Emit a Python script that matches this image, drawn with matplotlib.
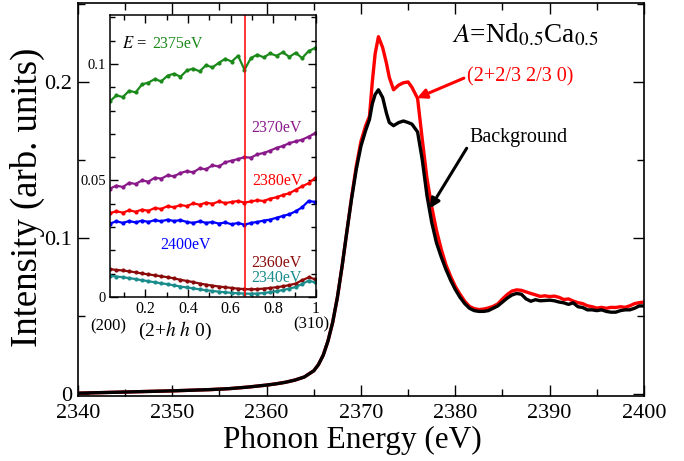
import matplotlib
matplotlib.use("Agg")
import matplotlib.pyplot as plt
from matplotlib.ticker import MultipleLocator

plt.rcParams["font.family"] = ["Liberation Serif", "DejaVu Serif"]
plt.rcParams["mathtext.fontset"] = "stix"

# main spectra: photon energy (eV) vs intensity
energy = [2340, 2342, 2344, 2346, 2348, 2350, 2352, 2354, 2356, 2358, 2360,
          2361, 2362, 2363, 2364, 2365, 2365.5, 2366, 2366.5, 2367, 2367.5,
          2368, 2368.5, 2369, 2369.5, 2370, 2370.5, 2370.9, 2371.2, 2371.5,
          2371.85, 2372.3, 2372.7, 2373.0, 2373.45, 2374.0, 2374.5, 2375.0,
          2375.4, 2376.0, 2376.5, 2377.0, 2377.5, 2378.0, 2378.5, 2379.0,
          2379.5, 2380.0, 2380.5, 2381.0, 2381.5, 2382.0, 2382.5, 2383.0,
          2383.5, 2384.0, 2384.5, 2385.0, 2385.5, 2386.0, 2386.5, 2387.0,
          2387.5, 2388.0, 2388.5, 2389.0, 2389.5, 2390.0, 2390.5, 2391.0,
          2391.5, 2392.0, 2392.5, 2393.0, 2393.5, 2394.0, 2394.5, 2395.0,
          2395.5, 2396.0, 2396.5, 2397.0, 2397.5, 2398.0, 2398.5, 2399.0,
          2399.5, 2400.0]

signal = [0.0006, 0.0009, 0.0012, 0.0015, 0.0018, 0.0021, 0.0025, 0.0029,
          0.0035, 0.0045, 0.0058, 0.0066, 0.0076, 0.0090, 0.0110, 0.0150,
          0.0190, 0.0250, 0.0340, 0.0460, 0.0620, 0.0820, 0.1040, 0.1260,
          0.1460, 0.1620, 0.1720, 0.1780, 0.2000, 0.2180, 0.2290, 0.2220,
          0.2120, 0.2030, 0.1950, 0.1980, 0.1995, 0.2000, 0.1966, 0.1895,
          0.1630, 0.1380, 0.1200, 0.1050, 0.0930, 0.0830, 0.0755, 0.0690,
          0.0640, 0.0595, 0.0562, 0.0548, 0.0542, 0.0545, 0.0552, 0.0562,
          0.0578, 0.0610, 0.0638, 0.0660, 0.0668, 0.0665, 0.0655, 0.0645,
          0.0636, 0.0626, 0.0630, 0.0625, 0.0628, 0.0620, 0.0606, 0.0610,
          0.0596, 0.0586, 0.0580, 0.0566, 0.0560, 0.0551, 0.0556, 0.0550,
          0.0556, 0.0555, 0.0560, 0.0556, 0.0566, 0.0580, 0.0586, 0.0590]

background = [0.0006, 0.0009, 0.0012, 0.0015, 0.0018, 0.0021, 0.0025, 0.0029,
              0.0035, 0.0045, 0.0058, 0.0066, 0.0076, 0.0090, 0.0110, 0.0150,
              0.0190, 0.0250, 0.0340, 0.0460, 0.0620, 0.0820, 0.1040, 0.1250,
              0.1440, 0.1590, 0.1690, 0.1760, 0.1860, 0.1920, 0.1950, 0.1900,
              0.1800, 0.1740, 0.1720, 0.1740, 0.1750, 0.1740, 0.1730, 0.1680,
              0.1500, 0.1270, 0.1100, 0.0970, 0.0880, 0.0800, 0.0730, 0.0670,
              0.0620, 0.0580, 0.0550, 0.0535, 0.0530, 0.0530, 0.0535, 0.0550,
              0.0565, 0.0590, 0.0615, 0.0635, 0.0645, 0.0640, 0.0610, 0.0595,
              0.0605, 0.0598, 0.0600, 0.0602, 0.0598, 0.0590, 0.0585, 0.0575,
              0.0585, 0.0560, 0.0555, 0.0540, 0.0540, 0.0535, 0.0540, 0.0530,
              0.0525, 0.0525, 0.0535, 0.0540, 0.0540, 0.0550, 0.0565, 0.0565]

main_xticks = [2340, 2350, 2360, 2370, 2380, 2390, 2400]
main_yticks = [0, 0.1, 0.2]
main_ylabels = ["0", "0.1", "0.2"]

# inset: intensity along (2+h h 0) for several energies
h = [0.035, 0.065, 0.095, 0.125, 0.155, 0.185, 0.215, 0.245, 0.275, 0.305,
     0.335, 0.365, 0.395, 0.425, 0.455, 0.485, 0.515, 0.545, 0.575, 0.605,
     0.635, 0.665, 0.695, 0.725, 0.755, 0.785, 0.815, 0.845, 0.875, 0.905,
     0.935, 0.965, 0.995]

scan_2375 = [0.0840, 0.0865, 0.0858, 0.0885, 0.0878, 0.0912, 0.0920, 0.0935,
             0.0925, 0.0950, 0.0958, 0.0945, 0.0972, 0.0980, 0.0968, 0.0995,
             0.0985, 0.1005, 0.1022, 0.1010, 0.1035, 0.0975, 0.1025, 0.1040,
             0.1028, 0.1045, 0.1035, 0.1050, 0.1030, 0.1048, 0.1025, 0.1055,
             0.1068]
scan_2370 = [0.0465, 0.0478, 0.0472, 0.0490, 0.0485, 0.0500, 0.0495, 0.0512,
             0.0508, 0.0522, 0.0518, 0.0532, 0.0540, 0.0535, 0.0552, 0.0548,
             0.0565, 0.0560, 0.0578, 0.0585, 0.0592, 0.0600, 0.0598, 0.0612,
             0.0618, 0.0628, 0.0640, 0.0648, 0.0660, 0.0668, 0.0675, 0.0688,
             0.0702]
scan_2380 = [0.0360, 0.0368, 0.0362, 0.0372, 0.0366, 0.0375, 0.0370, 0.0382,
             0.0378, 0.0390, 0.0385, 0.0395, 0.0390, 0.0402, 0.0396, 0.0405,
             0.0400, 0.0410, 0.0403, 0.0408, 0.0412, 0.0405, 0.0410, 0.0415,
             0.0412, 0.0422, 0.0428, 0.0438, 0.0445, 0.0460, 0.0475, 0.0488,
             0.0510]
scan_2400 = [0.0315, 0.0325, 0.0318, 0.0326, 0.0320, 0.0328, 0.0322, 0.0330,
             0.0325, 0.0332, 0.0326, 0.0330, 0.0322, 0.0318, 0.0325, 0.0318,
             0.0322, 0.0315, 0.0320, 0.0312, 0.0318, 0.0310, 0.0318, 0.0322,
             0.0328, 0.0332, 0.0340, 0.0348, 0.0355, 0.0368, 0.0385, 0.0412,
             0.0408]
scan_2360 = [0.0120, 0.0116, 0.0114, 0.0110, 0.0106, 0.0101, 0.0097, 0.0093,
             0.0089, 0.0085, 0.0080, 0.0074, 0.0069, 0.0064, 0.0058, 0.0053,
             0.0049, 0.0045, 0.0042, 0.0039, 0.0036, 0.0034, 0.0033, 0.0034,
             0.0036, 0.0039, 0.0042, 0.0046, 0.0051, 0.0058, 0.0072, 0.0084,
             0.0077]
scan_2340 = [0.0091, 0.0088, 0.0085, 0.0081, 0.0077, 0.0072, 0.0068, 0.0063,
             0.0059, 0.0055, 0.0050, 0.0045, 0.0041, 0.0037, 0.0033, 0.0029,
             0.0026, 0.0023, 0.0020, 0.0018, 0.0016, 0.0015, 0.0014, 0.0015,
             0.0017, 0.0021, 0.0025, 0.0030, 0.0036, 0.0043, 0.0056, 0.0070,
             0.0063]

inset_xticks = [0.2, 0.4, 0.6, 0.8, 1.0]
inset_xlabels = ["0.2", "0.4", "0.6", "0.8", "1"]
inset_yticks = [0, 0.05, 0.1]
inset_ylabels = ["0", "0.05", "0.1"]
h_cut = 2 / 3

fig = plt.figure(figsize=(6.84, 4.61), dpi=100)
ax = fig.add_axes([0.114, 0.141, 0.8275, 0.8525])

ax.plot(energy, signal, color="red", lw=2.4, solid_joinstyle="round")
ax.plot(energy, background, color="black", lw=2.4, solid_joinstyle="round")

ax.set_xlim(2340, 2400)
ax.set_ylim(-0.0012, 0.2506)
ax.set_xticks(main_xticks)
ax.set_yticks(main_yticks)
ax.set_yticklabels(main_ylabels)
ax.xaxis.set_minor_locator(MultipleLocator(5))
ax.yaxis.set_minor_locator(MultipleLocator(0.05))
ax.tick_params(which="both", direction="in", top=True, right=True,
               labelsize=16, width=1)
ax.tick_params(which="major", length=8, pad=4)
ax.tick_params(axis="x", which="major", pad=6)
ax.tick_params(which="minor", length=5)
for sp in ax.spines.values():
    sp.set_linewidth(1.2)

ax.set_xlabel("Phonon Energy (eV)", fontsize=22.5)
ax.xaxis.set_label_coords(0.484, -0.075)
ax.set_ylabel("Intensity (arb. units)", fontsize=26.5)
ax.yaxis.set_label_coords(-0.058, 0.505)

ax.text(2379.6, 0.2256, r"$A$=Nd$_{0.5}$Ca$_{0.5}$", fontsize=19.5,
        ha="left", va="baseline")
ax.annotate("(2+2/3 2/3 0)", xy=(2375.94, 0.1897), xytext=(2381.2, 0.2032),
            color="red", fontsize=14.5, ha="left", va="center",
            arrowprops=dict(arrowstyle="-|>", color="red", lw=2.2,
                            mutation_scale=14, shrinkA=0, shrinkB=0,
                            relpos=(0, 0.5)))
ax.annotate("Background", xy=(2377.3, 0.119), xytext=(2381.5, 0.1647),
            color="black", fontsize=14.5, ha="left", va="center",
            arrowprops=dict(arrowstyle="-|>", color="black", lw=2.2,
                            mutation_scale=14, shrinkA=0, shrinkB=0,
                            relpos=(0, 0.15)))

# inset
axi = fig.add_axes([0.1608, 0.3557, 0.3012, 0.6118])
scans = [
    (scan_2375, "#1b8a1b"),
    (scan_2370, "#8a1a8a"),
    (scan_2380, "red"),
    (scan_2400, "blue"),
    (scan_2360, "#8b0a0a"),
    (scan_2340, "#1a8c8c"),
]
for vals, col in scans:
    axi.plot(h, vals, color=col, lw=1.6, marker="o", ms=3, mew=0)
axi.axvline(h_cut, color="red", lw=1.1)

axi.set_xlim(0.035, 1.0)
axi.set_ylim(0, 0.121)
axi.set_xticks(inset_xticks)
axi.set_xticklabels(inset_xlabels)
axi.set_yticks(inset_yticks)
axi.set_yticklabels(inset_ylabels)
axi.xaxis.set_minor_locator(MultipleLocator(0.1))
axi.yaxis.set_minor_locator(MultipleLocator(0.01))
axi.tick_params(which="both", direction="in", top=True, right=True, width=1)
axi.tick_params(which="major", length=6, pad=3)
axi.tick_params(which="minor", length=3.5)
axi.tick_params(axis="x", labelsize=11.5)
axi.tick_params(axis="y", labelsize=10.5)
for sp in axi.spines.values():
    sp.set_linewidth(1.1)

axi.text(0.092, 0.1085, r"$E$ = ", fontsize=12, ha="left", va="center")
axi.text(0.235, 0.1085, "2375eV", fontsize=11.5, color="#1b8a1b",
         ha="left", va="center")
axi.text(0.816, 0.0724, "2370eV", fontsize=11.5, color="#8a1a8a",
         ha="center", va="center")
axi.text(0.82, 0.0496, "2380eV", fontsize=11.5, color="red",
         ha="center", va="center")
axi.text(0.39, 0.0224, "2400eV", fontsize=11.5, color="blue",
         ha="center", va="center")
axi.text(0.816, 0.0147, "2360eV", fontsize=11.5, color="#8b0a0a",
         ha="center", va="center")
axi.text(0.816, 0.0082, "2340eV", fontsize=11.5, color="#1a8c8c",
         ha="center", va="center")

axi.text(0.026, -0.0125, "(200)", fontsize=12, ha="center", va="center",
         clip_on=False)
axi.text(0.976, -0.0118, "(310)", fontsize=12, ha="center", va="center",
         clip_on=False)
axi.text(0.341, -0.0147, r"(2+$h$ $h$ 0)", fontsize=14, ha="center",
         va="center", clip_on=False)

fig.savefig("out.png", dpi=100)
